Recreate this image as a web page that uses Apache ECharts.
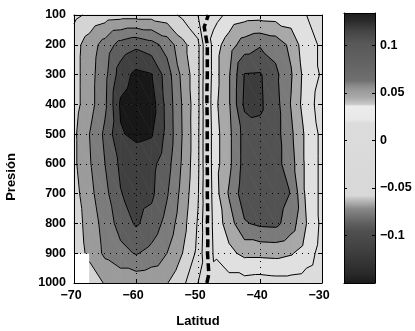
<!DOCTYPE html>
<html>
<head>
<meta charset="utf-8">
<script src="https://cdn.jsdelivr.net/npm/echarts@6/dist/echarts.min.js"></script>
<style>
html, body { margin: 0; padding: 0; background: #fff; }
#chart { width: 415px; height: 331px; }
</style>
</head>
<body>
<div id="chart"></div>
<script>
// grid of the field: one row per pressure level, one value per latitude (null = no data)
var lats = [-70, -67.5, -65, -62.5, -60, -57.5, -55, -52.5, -50, -47.5, -45, -42.5, -40, -37.5, -35, -32.5, -30];
var pressures = [100, 200, 300, 400, 500, 600, 700, 800, 900, 1000];
var p100  = [-0.035, -0.044, -0.050, -0.052, -0.052, -0.052, -0.048, -0.036, -0.020, 0.010, 0.026, 0.031, 0.032, 0.031, 0.028, 0.020, 0.015];
var p200  = [-0.052, -0.070, -0.088, -0.108, -0.1156, -0.108, -0.092, -0.066, -0.045, 0.030, 0.050, 0.070, 0.078, 0.072, 0.055, 0.025, 0.018];
var p300  = [-0.052, -0.072, -0.094, -0.130, -0.145, -0.141, -0.110, -0.074, -0.045, 0.030, 0.058, 0.101, 0.102, 0.085, 0.062, 0.030, 0.018];
var p400  = [-0.052, -0.072, -0.096, -0.143, -0.152, -0.150, -0.113, -0.078, -0.045, 0.033, 0.058, 0.104, 0.103, 0.088, 0.059, 0.028, 0.012];
var p500  = [-0.056, -0.080, -0.104, -0.138, -0.145, -0.142, -0.114, -0.079, -0.044, 0.030, 0.055, 0.088, 0.095, 0.088, 0.064, 0.035, 0.015];
var p600  = [-0.056, -0.078, -0.100, -0.124, -0.127, -0.126, -0.108, -0.077, -0.044, 0.030, 0.055, 0.088, 0.092, 0.088, 0.068, 0.035, 0.015];
var p700  = [-0.052, -0.074, -0.094, -0.119, -0.128, -0.124, -0.102, -0.073, -0.042, 0.028, 0.062, 0.092, 0.094, 0.090, 0.079, 0.035, 0.015];
var p800  = [-0.050, -0.068, -0.088, -0.108, -0.1225, -0.112, -0.093, -0.068, -0.038, 0.025, 0.050, 0.078, 0.084, 0.085, 0.070, 0.040, 0.015];
var p900  = [-0.045, -0.066, -0.084, -0.094, -0.1015, -0.094, -0.080, -0.060, -0.035, 0.022, 0.035, 0.045, 0.045, 0.046, 0.042, 0.030, 0.012];
var p1000 = [null, -0.045, -0.062, -0.066, -0.066, -0.064, -0.061, -0.045, -0.020, 0.015, 0.012, 0.012, 0.010, 0.012, 0.012, 0.010, 0.005];
var field = [p100, p200, p300, p400, p500, p600, p700, p800, p900, p1000];

var levels = [-0.14, -0.12, -0.10, -0.08, -0.06, -0.04, -0.02, 0, 0.02, 0.04, 0.06, 0.08, 0.10];
var cbarMin = -0.15, cbarMax = 0.134;

// fill colour of each band (below first level ... above last level)
var bandColors = ['#181818', '#404040', '#5e5e5e', '#7c7c7c', '#9b9b9b', '#d4d4d4', '#d8d8d8',
                  '#dadada', '#dcdcdc', '#e0e0e0', '#a8a8a8', '#7a7a7a', '#525252', '#3c3c3c'];
// colormap of the colorbar
var cbarStops = [
    [-0.150, '#1a1a1a'], [-0.140, '#2a2a2a'], [-0.120, '#3c3c3c'], [-0.095, '#505050'],
    [-0.087, '#606060'], [-0.072, '#888888'], [-0.068, '#a0a0a0'], [-0.062, '#c0c0c0'],
    [-0.058, '#d8d8d8'], [0.018, '#dcdcdc'], [0.022, '#e8e8e8'], [0.036, '#ececec'],
    [0.038, '#c8c8c8'], [0.045, '#aaaaaa'], [0.053, '#999999'], [0.058, '#888888'],
    [0.063, '#707070'], [0.080, '#646464'], [0.102, '#585858'], [0.115, '#444444'],
    [0.126, '#2a2a2a'], [0.134, '#1e1e1e']
];

var FONT = 'Liberation Sans';

function minus(v) {
    var s = String(+(+v).toFixed(2));
    return s.replace('-', '\u2212');
}

// two triangles of a grid cell, vertices as [lat, p, value]
function cellTriangles(i, j) {
    var a = field[j][i], b = field[j][i + 1], c = field[j + 1][i + 1], d = field[j + 1][i];
    if (a == null || b == null || c == null || d == null) return null;
    var A = [lats[i], pressures[j], a], B = [lats[i + 1], pressures[j], b],
        C = [lats[i + 1], pressures[j + 1], c], D = [lats[i], pressures[j + 1], d];
    return [[A, B, C], [A, C, D]];
}

function clipSide(poly, lev, sign) {
    var out = [];
    for (var k = 0; k < poly.length; k++) {
        var a = poly[k], b = poly[(k + 1) % poly.length];
        var ina = sign * (a[2] - lev) >= 0, inb = sign * (b[2] - lev) >= 0;
        if (ina) out.push(a);
        if (ina !== inb) {
            var t = (lev - a[2]) / (b[2] - a[2]);
            out.push([a[0] + t * (b[0] - a[0]), a[1] + t * (b[1] - a[1]), lev]);
        }
    }
    return out;
}

function renderFill(params, api) {
    var tris = cellTriangles(api.value(2), api.value(3));
    if (!tris) return;
    var children = [];
    tris.forEach(function (tri) {
        for (var k = 0; k <= levels.length; k++) {
            var poly = tri;
            if (k > 0) poly = clipSide(poly, levels[k - 1], 1);
            if (k < levels.length && poly.length) poly = clipSide(poly, levels[k], -1);
            if (poly.length < 3) continue;
            children.push({
                type: 'polygon',
                shape: { points: poly.map(function (q) { return api.coord([q[0], q[1]]); }) },
                style: { fill: bandColors[k], stroke: bandColors[k], lineWidth: 0.7 }
            });
        }
    });
    return { type: 'group', children: children };
}

// crossing point on an edge, always computed from the same end so shared edges agree
function cross(a, b, lev) {
    if (a[0] > b[0] || (a[0] === b[0] && a[1] > b[1])) { var t0 = a; a = b; b = t0; }
    var t = (lev - a[2]) / (b[2] - a[2]);
    return [a[0] + t * (b[0] - a[0]), a[1] + t * (b[1] - a[1])];
}

function levelSegments(lev) {
    var segs = [];
    for (var j = 0; j < pressures.length - 1; j++) {
        for (var i = 0; i < lats.length - 1; i++) {
            var tris = cellTriangles(i, j);
            if (!tris) continue;
            tris.forEach(function (tri) {
                var pts = [];
                for (var e = 0; e < 3; e++) {
                    var a = tri[e], b = tri[(e + 1) % 3];
                    if ((a[2] >= lev) !== (b[2] >= lev)) pts.push(cross(a, b, lev));
                }
                if (pts.length === 2) segs.push(pts);
            });
        }
    }
    return segs;
}

function chain(segs) {
    var key = function (q) { return q[0].toFixed(6) + ',' + q[1].toFixed(4); };
    var ends = {}, used = [];
    segs.forEach(function (s, n) {
        [0, 1].forEach(function (e) {
            var k = key(s[e]);
            (ends[k] = ends[k] || []).push([n, e]);
        });
    });
    function grow(line) {
        while (true) {
            var list = ends[key(line[line.length - 1])] || [], found = false;
            for (var m = 0; m < list.length; m++) {
                var n = list[m][0];
                if (used[n]) continue;
                used[n] = true;
                line.push(segs[n][1 - list[m][1]]);
                found = true;
                break;
            }
            if (!found) return line;
        }
    }
    var lines = [];
    segs.forEach(function (s, n) {
        if (used[n]) return;
        used[n] = true;
        var line = grow([s[0], s[1]]);
        line.reverse();
        lines.push(grow(line));
    });
    return lines;
}

function renderLines(params, api) {
    var lev = levels[api.value(2)];
    var zero = lev === 0;
    var children = chain(levelSegments(lev)).map(function (line) {
        return {
            type: 'polyline',
            shape: { points: line.map(function (q) { return api.coord(q); }) },
            style: {
                fill: null, stroke: '#000',
                lineWidth: zero ? 3.5 : 1,
                lineDash: zero ? [8, 4] : null
            }
        };
    });
    return { type: 'group', children: children };
}

function renderBar(params, api) {
    var lo = api.coord([0, cbarMin]), hi = api.coord([1, cbarMax]);
    var stops = cbarStops.map(function (s) {
        return { offset: (s[0] - cbarMin) / (cbarMax - cbarMin), color: s[1] };
    });
    return {
        type: 'rect',
        shape: { x: lo[0], y: hi[1], width: hi[0] - lo[0], height: lo[1] - hi[1] },
        style: { fill: new echarts.graphic.LinearGradient(0, 1, 0, 0, stops) }
    };
}

var cells = [];
for (var j = 0; j < pressures.length - 1; j++) {
    for (var i = 0; i < lats.length - 1; i++) cells.push([lats[i], pressures[j], i, j]);
}
var levelItems = levels.map(function (l, k) { return [lats[0], pressures[0], k]; });

var labelStyle = { color: '#000', fontWeight: 'bold', fontSize: 12.5, fontFamily: FONT };
var nameStyle = { color: '#000', fontWeight: 'bold', fontSize: 13, fontFamily: FONT };
var boxLine = { show: true, onZero: false, lineStyle: { color: '#000', width: 1 } };
var inTick = { show: true, inside: true, length: 4, lineStyle: { color: '#000', width: 1 } };
var dots = { show: true, lineStyle: { color: '#000', width: 1, type: [1, 5] } };

var myChart = echarts.init(document.getElementById('chart'));

var option = {
    animation: false,
    backgroundColor: '#fff',
    grid: [
        { left: 74, right: 93, top: 15, bottom: 48, outerBoundsMode: 'none' },
        { left: 344, width: 31, top: 13, bottom: 48, outerBoundsMode: 'none' }
    ],
    graphic: [{
        type: 'text', x: 11, y: 177, rotation: Math.PI / 2, silent: true,
        style: { text: 'Presión', fill: '#000', font: 'bold 13px "Liberation Sans"', align: 'center', verticalAlign: 'middle' }
    }],
    xAxis: [
        {
            gridIndex: 0, type: 'value', min: -70, max: -30, interval: 10, position: 'bottom', z: 3,
            axisLine: boxLine, axisTick: inTick, splitLine: dots,
            axisLabel: Object.assign({ margin: 6, formatter: minus, padding: [0, 6, 0, 0] }, labelStyle),
            name: 'Latitud', nameLocation: 'middle', nameGap: 32, nameTextStyle: nameStyle
        },
        {
            gridIndex: 0, type: 'value', min: -70, max: -30, interval: 10, position: 'top', z: 3,
            axisLine: boxLine, axisTick: inTick, axisLabel: { show: false }, splitLine: { show: false }
        },
        {
            gridIndex: 1, type: 'value', min: 0, max: 1, position: 'bottom', z: 3,
            axisLine: boxLine, axisTick: { show: false }, axisLabel: { show: false }, splitLine: { show: false }
        },
        {
            gridIndex: 1, type: 'value', min: 0, max: 1, position: 'top', z: 3,
            axisLine: boxLine, axisTick: { show: false }, axisLabel: { show: false }, splitLine: { show: false }
        }
    ],
    yAxis: [
        {
            gridIndex: 0, type: 'value', min: 100, max: 1000, interval: 100, inverse: true, position: 'left', z: 3,
            axisLine: boxLine, axisTick: inTick, splitLine: dots,
            axisLabel: Object.assign({ margin: 8, formatter: function (v) { return String(v); } }, labelStyle)
        },
        {
            gridIndex: 0, type: 'value', min: 100, max: 1000, interval: 100, inverse: true, position: 'right', z: 3,
            axisLine: boxLine, axisTick: inTick, axisLabel: { show: false }, splitLine: { show: false }
        },
        {
            gridIndex: 1, type: 'value', min: cbarMin, max: cbarMax, interval: 0.05, position: 'right', z: 3,
            axisLine: boxLine, axisTick: { show: true, inside: true, length: 3, lineStyle: { color: '#000' } },
            splitLine: { show: false },
            axisLabel: Object.assign({ margin: 5, formatter: minus, showMinLabel: false, showMaxLabel: false }, labelStyle)
        },
        {
            gridIndex: 1, type: 'value', min: cbarMin, max: cbarMax, interval: 0.05, position: 'left', z: 3,
            axisLine: boxLine, axisTick: { show: true, inside: true, length: 3, lineStyle: { color: '#000' } },
            axisLabel: { show: false }, splitLine: { show: false }
        }
    ],
    series: [
        {
            type: 'custom', xAxisIndex: 0, yAxisIndex: 0, z: 1, silent: true,
            encode: { x: 0, y: 1 }, data: cells, renderItem: renderFill
        },
        {
            type: 'custom', xAxisIndex: 0, yAxisIndex: 0, z: 4, silent: true,
            encode: { x: 0, y: 1 }, data: levelItems, renderItem: renderLines
        },
        {
            type: 'custom', xAxisIndex: 2, yAxisIndex: 2, z: 1, silent: true,
            encode: { x: 0, y: 1 }, data: [[0, cbarMin]], renderItem: renderBar
        }
    ]
};

myChart.setOption(option);
</script>
</body>
</html>
